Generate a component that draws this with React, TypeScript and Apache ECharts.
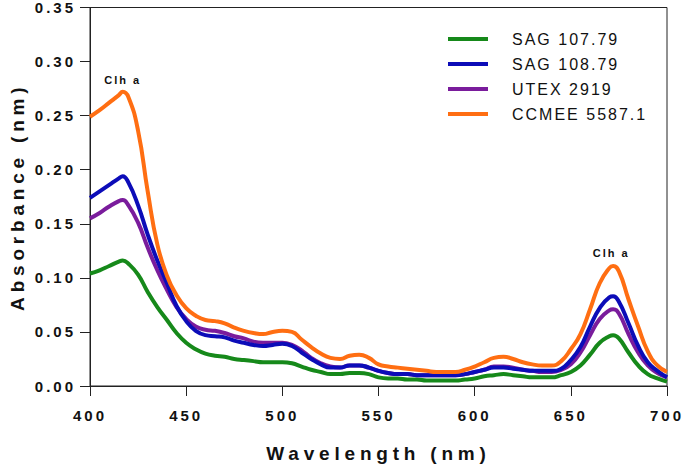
import React, { useEffect, useRef } from "react";
import * as echarts from "echarts";

const wavelengths = [
  400, 405, 410, 415, 417, 420, 425, 430, 435, 440, 445, 450, 455, 460, 465, 470, 475, 480, 485, 490, 495,
  500, 505, 510, 515, 520, 525, 530, 535, 540, 545, 550, 555, 560, 565, 570, 575, 580, 585, 590, 595,
  600, 605, 610, 615, 620, 625, 630, 635, 640, 645, 650, 655, 660, 665, 670, 672, 675, 680, 685, 690, 695, 700,
];

const sag10779 = [
  0.104, 0.107, 0.111, 0.115, 0.116, 0.113, 0.103, 0.087, 0.073, 0.061, 0.049, 0.04, 0.034, 0.03, 0.028, 0.027, 0.025, 0.024, 0.023, 0.022, 0.022,
  0.022, 0.021, 0.018, 0.015, 0.013, 0.011, 0.011, 0.012, 0.012, 0.011, 0.008, 0.007, 0.007, 0.006, 0.006, 0.005, 0.005, 0.005, 0.005, 0.006,
  0.007, 0.009, 0.01, 0.011, 0.01, 0.009, 0.008, 0.008, 0.008, 0.01, 0.013, 0.019, 0.029, 0.04, 0.046, 0.047, 0.044, 0.031, 0.019, 0.011, 0.007, 0.004,
];

const sag10879 = [
  0.174, 0.18, 0.186, 0.192, 0.194, 0.188, 0.167, 0.14, 0.116, 0.095, 0.074, 0.06, 0.051, 0.047, 0.046, 0.045, 0.042, 0.04, 0.038, 0.037, 0.038,
  0.039, 0.037, 0.031, 0.025, 0.02, 0.017, 0.017, 0.019, 0.019, 0.017, 0.014, 0.012, 0.011, 0.011, 0.01, 0.01, 0.01, 0.01, 0.01, 0.011,
  0.013, 0.015, 0.017, 0.017, 0.016, 0.015, 0.014, 0.014, 0.014, 0.016, 0.024, 0.036, 0.055, 0.072, 0.082, 0.083, 0.078, 0.058, 0.037, 0.022, 0.014, 0.008,
];

const utex2919 = [
  0.155, 0.16, 0.166, 0.171, 0.172, 0.167, 0.151, 0.128, 0.107, 0.089, 0.073, 0.062, 0.055, 0.052, 0.051, 0.049, 0.046, 0.044, 0.041, 0.04, 0.04,
  0.04, 0.038, 0.033, 0.026, 0.021, 0.018, 0.017, 0.019, 0.019, 0.017, 0.014, 0.012, 0.011, 0.011, 0.01, 0.01, 0.01, 0.01, 0.01, 0.011,
  0.013, 0.015, 0.018, 0.018, 0.017, 0.015, 0.014, 0.013, 0.013, 0.015, 0.02, 0.031, 0.047, 0.062, 0.07, 0.071, 0.067, 0.048, 0.031, 0.019, 0.012, 0.008,
];

const ccmee55871 = [
  0.249, 0.255, 0.262, 0.269, 0.272, 0.267, 0.236, 0.18, 0.131, 0.102, 0.084, 0.072, 0.065, 0.061, 0.06, 0.058, 0.054, 0.051, 0.049, 0.048, 0.05,
  0.051, 0.05, 0.043, 0.036, 0.03, 0.026, 0.025, 0.028, 0.029, 0.026, 0.02, 0.018, 0.017, 0.016, 0.015, 0.014, 0.013, 0.013, 0.013, 0.015,
  0.018, 0.022, 0.026, 0.027, 0.025, 0.022, 0.02, 0.019, 0.019, 0.023, 0.034, 0.048, 0.071, 0.095, 0.109, 0.111, 0.106, 0.08, 0.055, 0.032, 0.019, 0.013,
];

const seriesNames = ["SAG 107.79", "SAG 108.79", "UTEX 2919", "CCMEE 5587.1"];
const seriesColors = ["#16891a", "#0c0cb8", "#7a1c9c", "#ff6e12"];

const annotationWl = [417, 671];
const annotationAbs = [0.272, 0.112];
const annotationText = "Clh a";

const xTitle = "Wavelength (nm)";
const yTitle = "Absorbance (nm)";

const FONT = "'Liberation Sans', Arial, Helvetica, sans-serif";

export default function App() {
  const ref = useRef<HTMLDivElement>(null);

  useEffect(() => {
    const el = ref.current!;
    const chart = echarts.init(el, null, { renderer: "svg" });

    const pairs = (ys: number[]) => wavelengths.map((w, i) => [w, ys[i]]);
    const dataSets = [sag10779, sag10879, utex2919, ccmee55871];
    // drawing order: green, purple, blue, orange (orange on top)
    const drawOrder = [0, 2, 1, 3];

    const series: any[] = drawOrder.map((idx) => ({
      name: seriesNames[idx],
      type: "line",
      data: pairs(dataSets[idx]),
      showSymbol: false,
      smooth: 0.5,
      silent: true,
      color: seriesColors[idx],
      lineStyle: { width: 4, color: seriesColors[idx] },
      itemStyle: { color: seriesColors[idx] },
      markPoint:
        idx === 3
          ? {
              symbol: "circle",
              symbolSize: 1,
              silent: true,
              itemStyle: { color: "rgba(0,0,0,0)" },
              label: {
                show: true,
                position: "top",
                distance: 6,
                formatter: annotationText,
                fontFamily: FONT,
                fontWeight: "bold",
                fontSize: 11,
                color: "#111",
              },
              data: annotationWl.map((w, i) => ({ coord: [w, annotationAbs[i]] })),
            }
          : undefined,
    }));

    chart.setOption({
      animation: false,
      textStyle: { fontFamily: FONT },
      grid: {
        left: 88,
        right: 18,
        top: 7,
        bottom: 79,
        show: true,
        borderColor: "#222",
        borderWidth: 1,
        backgroundColor: "transparent",
      },
      legend: {
        data: seriesNames,
        orient: "vertical",
        left: 448,
        top: 31,
        padding: 0,
        icon: "rect",
        itemWidth: 40,
        itemHeight: 4,
        itemGap: 9,
        selectedMode: false,
        textStyle: {
          fontFamily: FONT,
          fontSize: 16,
          lineHeight: 16,
          color: "#111",
          padding: [0, 0, 0, 19],
        },
      },
      xAxis: {
        type: "value",
        min: 400,
        max: 700,
        interval: 50,
        name: xTitle,
        nameLocation: "middle",
        nameGap: 58,
        nameTextStyle: { fontFamily: FONT, fontWeight: "bold", fontSize: 19, color: "#111" },
        axisLine: { show: true, onZero: false, lineStyle: { color: "#222", width: 1 } },
        axisTick: { show: true, inside: false, length: 10, lineStyle: { color: "#222", width: 1 } },
        axisLabel: {
          margin: 22,
          fontFamily: FONT,
          fontWeight: "bold",
          fontSize: 15,
          color: "#111",
        },
        splitLine: { show: false },
      },
      yAxis: {
        type: "value",
        min: 0,
        max: 0.35,
        interval: 0.05,
        name: yTitle,
        nameLocation: "middle",
        nameRotate: 90,
        nameGap: 63,
        nameTextStyle: { fontFamily: FONT, fontWeight: "bold", fontSize: 19, color: "#111" },
        axisLine: { show: true, lineStyle: { color: "#222", width: 1 } },
        axisTick: { show: true, inside: false, length: 10, lineStyle: { color: "#222", width: 1 } },
        axisLabel: {
          margin: 14,
          fontFamily: FONT,
          fontWeight: "bold",
          fontSize: 15,
          color: "#111",
          formatter: (v: number) => v.toFixed(2),
        },
        splitLine: { show: false },
      },
      series,
    });

    const applySpacing = () => {
      el.querySelectorAll("text").forEach((t) => {
        const s = (t.textContent || "").trim();
        let ls = "";
        if (/^0\.\d\d$/.test(s) || /^\d{3}$/.test(s)) ls = "3px";
        else if (s === xTitle || s === yTitle) ls = "4.8px";
        else if (seriesNames.indexOf(s) >= 0) ls = "2px";
        else if (s === annotationText) ls = "2px";
        if (ls) (t as SVGTextElement).style.letterSpacing = ls;
      });
    };
    applySpacing();
    chart.on("rendered", applySpacing);
    const timer = setTimeout(applySpacing, 50);

    return () => {
      clearTimeout(timer);
      chart.dispose();
    };
  }, []);

  return (
    <div
      ref={ref}
      style={{ position: "absolute", left: 0, top: 0, width: 685, height: 468, background: "#fff" }}
    />
  );
}
